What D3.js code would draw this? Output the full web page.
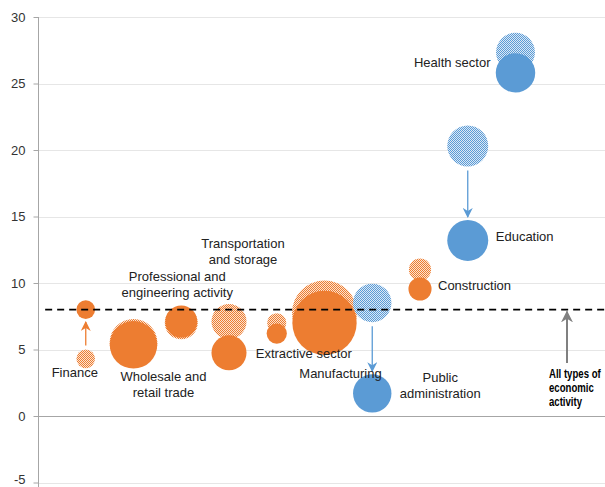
<!DOCTYPE html>
<html>
<head>
<meta charset="utf-8">
<script src="https://cdn.jsdelivr.net/npm/d3@7/dist/d3.min.js"></script>
<style>
  html, body { margin: 0; padding: 0; background: #fff; }
  svg { display: block; font-family: "Liberation Sans", Arial, sans-serif; }
</style>
</head>
<body>
<svg id="chart" width="605" height="487"></svg>
<script>
// Sectors, in plotting order along the horizontal axis
const sectors = [
  "Finance", "Wholesale and retail trade", "Professional and engineering activity",
  "Transportation and storage", "Extractive sector", "Manufacturing",
  "Public administration", "Construction", "Education", "Health sector"
];
// Colour group of each sector: "o" = orange, "b" = blue
const sectorGroup = ["o", "o", "o", "o", "o", "o", "b", "o", "b", "b"];
// Earlier period (patterned bubbles)
const earlierValue = [4.3, 5.5, 7.0, 7.1, 7.0, 7.75, 8.5, 11.0, 20.3, 27.35];
const earlierSize  = [8.5, 56, 26.5, 30, 9, 103, 36, 12, 41, 37];
// Later period (solid bubbles)
const laterValue = [8.0, 5.35, 7.1, 4.75, 6.2, 7.0, 1.7, 9.55, 13.2, 25.8];
const laterSize  = [8.5, 55, 25, 30, 10, 101, 36, 13, 41, 38];
// Sectors whose change is marked with an arrow
const arrowSectors = ["Finance", "Public administration", "Education"];
// All types of economic activity
const allActivity = 8.0;
// Axis ticks
const yTicks = [-5, 0, 5, 10, 15, 20, 25, 30];

// Label layout: lines, anchor, pixel offset from the solid bubble centre
const labelLayout = [
  { lines: ["Finance"], anchor: "middle", dx: -11, dy: 63 },
  { lines: ["Wholesale and", "retail trade"], anchor: "middle", dx: 30, dy: 32 },
  { lines: ["Professional and", "engineering activity"], anchor: "middle", dx: -4, dy: -45 },
  { lines: ["Transportation", "and storage"], anchor: "middle", dx: 14, dy: -109 },
  { lines: ["Extractive sector"], anchor: "start", dx: -21, dy: 20 },
  { lines: ["Manufacturing"], anchor: "middle", dx: 16, dy: 51 },
  { lines: ["Public", "administration"], anchor: "middle", dx: 68, dy: -16 },
  { lines: ["Construction"], anchor: "start", dx: 18, dy: -4 },
  { lines: ["Education"], anchor: "start", dx: 28, dy: -4 },
  { lines: ["Health sector"], anchor: "end", dx: -25, dy: -10 }
];

const W = 605, H = 487;
const colors = { o: "#ED7D31", b: "#5B9BD5" };
const tints  = { o: "#FBE3D2", b: "#DCE9F6" };

const svg = d3.select("#chart");
const x = d3.scaleLinear().domain([0, 12]).range([38, 38 + 47.75 * 12]);
const y = d3.scaleLinear().domain([-5, 30]).range([482.5, 17]);
const r = d3.scaleSqrt().domain([0, 100]).range([0, 32]);

const defs = svg.append("defs");
// Fine checker patterns for the earlier-period bubbles
Object.keys(colors).forEach(k => {
  const p = defs.append("pattern")
    .attr("id", "pat-" + k).attr("patternUnits", "userSpaceOnUse")
    .attr("width", 2).attr("height", 2);
  p.append("rect").attr("width", 2).attr("height", 2).attr("fill", tints[k]);
  p.append("rect").attr("width", 1).attr("height", 1).attr("fill", colors[k]);
  p.append("rect").attr("x", 1).attr("y", 1).attr("width", 1).attr("height", 1).attr("fill", colors[k]);
});
// Arrowheads
function marker(id, color, size) {
  defs.append("marker")
    .attr("id", id).attr("viewBox", "0 0 10 10")
    .attr("refX", 9).attr("refY", 5)
    .attr("markerWidth", size).attr("markerHeight", size)
    .attr("markerUnits", "userSpaceOnUse").attr("orient", "auto")
    .append("path").attr("d", "M0,0 L10,5 L0,10 L3,5 Z").attr("fill", color);
}
marker("arr-o", colors.o, 10);
marker("arr-b", colors.b, 10);
marker("arr-g", "#808080", 12);

// Gridlines
const grid = svg.append("g");
grid.selectAll("line").data(yTicks.filter(t => t !== 0)).join("line")
  .attr("x1", 38).attr("x2", W)
  .attr("y1", d => Math.round(y(d)) + 0.5).attr("y2", d => Math.round(y(d)) + 0.5)
  .attr("stroke", "#E6E6E6").attr("stroke-width", 1);
svg.append("line")
  .attr("x1", 38).attr("x2", W)
  .attr("y1", Math.round(y(0)) + 0.5).attr("y2", Math.round(y(0)) + 0.5)
  .attr("stroke", "#A6A6A6").attr("stroke-width", 1);

// Y axis
const yAxis = svg.append("g").attr("transform", "translate(38.5,0)")
  .call(d3.axisLeft(y).tickValues(yTicks).tickFormat(d => String(d))
    .tickSize(5).tickPadding(8).tickSizeOuter(0));
yAxis.select(".domain").attr("stroke", "#A6A6A6");
yAxis.selectAll(".tick line").attr("stroke", "#A6A6A6");
yAxis.selectAll(".tick text").attr("fill", "#333").style("font-size", "13px")
  .style("font-family", "'Liberation Sans', Arial, sans-serif");
// keep the lowest tick label inside the frame
yAxis.selectAll(".tick text").filter(d => d === -5).attr("dy", "0.1em");
yAxis.select(".domain").attr("d", `M0,${y(30)}V${H}`);

// Build records
const rows = sectors.map((s, i) => ({
  name: s, i: i + 1, g: sectorGroup[i],
  v0: earlierValue[i], s0: earlierSize[i],
  v1: laterValue[i], s1: laterSize[i]
}));

// Bubbles: orange series first, then blue; patterned beneath solid
["o", "b"].forEach(g => {
  const sub = rows.filter(d => d.g === g);
  svg.append("g").selectAll("circle").data(sub).join("circle")
    .attr("cx", d => x(d.i)).attr("cy", d => y(d.v0)).attr("r", d => r(d.s0))
    .attr("fill", `url(#pat-${g})`);
  svg.append("g").selectAll("circle").data(sub).join("circle")
    .attr("cx", d => x(d.i)).attr("cy", d => y(d.v1)).attr("r", d => r(d.s1))
    .attr("fill", colors[g]);
});

// Change arrows
rows.filter(d => arrowSectors.includes(d.name)).forEach(d => {
  const dir = d.v1 > d.v0 ? -1 : 1; // screen direction of travel
  const y0 = y(d.v0) + dir * (r(d.s0) + 4);
  const y1 = y(d.v1) - dir * (r(d.s1) + 3);
  svg.append("line")
    .attr("x1", x(d.i)).attr("x2", x(d.i)).attr("y1", y0).attr("y2", y1)
    .attr("stroke", colors[d.g]).attr("stroke-width", 1.3)
    .attr("marker-end", `url(#arr-${d.g})`);
});

// All types of economic activity
svg.append("line")
  .attr("x1", x(0.15)).attr("x2", W)
  .attr("y1", y(allActivity)).attr("y2", y(allActivity))
  .attr("stroke", "#000").attr("stroke-width", 1.6).attr("stroke-dasharray", "7,5");
svg.append("line")
  .attr("x1", 567).attr("x2", 567)
  .attr("y1", 363).attr("y2", y(allActivity) + 2)
  .attr("stroke", "#808080").attr("stroke-width", 2)
  .attr("marker-end", "url(#arr-g)");
// condensed bold note
const allText = svg.append("g").attr("transform", "translate(549,378) scale(0.8,1)")
  .append("text")
  .attr("fill", "#000").style("font-size", "12px").style("font-weight", "bold");
["All types of", "economic", "activity"].forEach((t, k) => {
  allText.append("tspan").attr("x", 0).attr("y", k * 14).text(t);
});

// Sector labels
rows.forEach((d, i) => {
  const L = labelLayout[i];
  const t = svg.append("text")
    .attr("text-anchor", L.anchor).attr("fill", "#222")
    .style("font-size", "13px");
  const cx = x(d.i) + L.dx, cy = y(d.v1) + L.dy;
  L.lines.forEach((line, k) => {
    t.append("tspan").attr("x", cx).attr("y", cy + k * 16).attr("dy", "0.35em").text(line);
  });
});
</script>
</body>
</html>
